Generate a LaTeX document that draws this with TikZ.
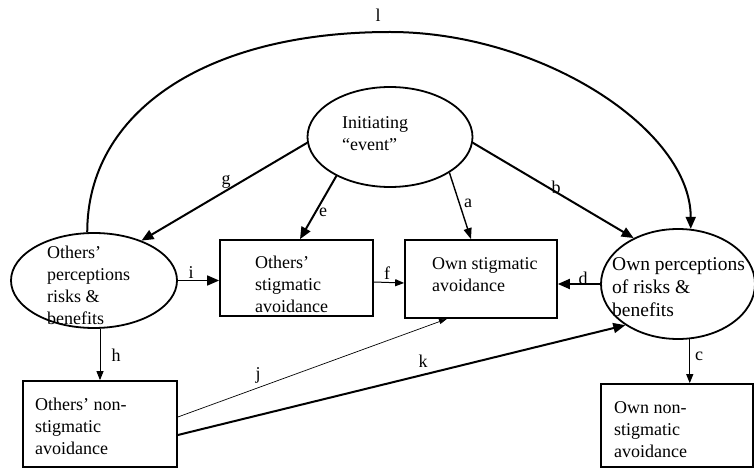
\documentclass[tikz,border=0pt]{standalone}
\usepackage{fontspec}
\setmainfont{Liberation Serif}
\usetikzlibrary{arrows.meta,shapes.geometric,calc}
\begin{document}
\begin{tikzpicture}[x=1pt,y=-1pt,
  ell/.style={ellipse,draw,line width=1.8pt,inner sep=0pt},
  boxn/.style={rectangle,draw,line width=1.7pt,inner sep=0pt},
  txt/.style={inner sep=0pt,align=left,anchor=west,font=\fontsize{18}{22}\selectfont},
  lbl/.style={inner sep=0pt,font=\fontsize{18}{22}\selectfont},
  thickarr/.style={line width=2pt,-{Triangle[length=12pt,width=10pt]}},
  medarr/.style={line width=1.4pt,-{Triangle[length=11pt,width=8pt]}},
  thinarr/.style={line width=1pt,-{Triangle[length=9pt,width=7pt]}},
  hairarr/.style={line width=0.7pt,-{Triangle[length=8pt,width=5pt]}},
]
\useasboundingbox[fill=white] (0,0) rectangle (754,470);

% shapes
\node[ell,minimum width=165pt,minimum height=100pt] (ie) at (390,137) {};
\node[ell,minimum width=166pt,minimum height=95pt] (oep) at (94,280.5) {};
\node[ell,minimum width=154pt,minimum height=110pt] (owp) at (678,284) {};
\node[boxn,minimum width=153pt,minimum height=76pt] (osa) at (296.5,278) {};
\node[boxn,minimum width=152pt,minimum height=78pt] (osb) at (481,279) {};
\node[boxn,minimum width=154pt,minimum height=86pt] (onsa) at (100,424) {};
\node[boxn,minimum width=152pt,minimum height=83pt] (wnsa) at (677,425.5) {};

% texts
\node[txt] (tie) at (342,134) {Initiating\\“event”};
\node[txt] (toep) at (47,285) {Others’\\perceptions\\risks \&\\benefits};
\node[txt,font=\fontsize{19.5}{23}\selectfont] (towp) at (612,287) {Own perceptions\\of risks \&\\benefits};
\node[txt] (tosa) at (255,284) {Others’\\stigmatic\\avoidance};
\node[txt] (tosb) at (432,275) {Own stigmatic\\avoidance};
\node[txt] (tonsa) at (35,426) {Others’ non-\\stigmatic\\avoidance};
\node[txt] (twnsa) at (614,430) {Own non-\\stigmatic\\avoidance};

% connectors
\coordinate (ltop) at (390,32);
\draw[thickarr] (oep.98) .. controls +(0,-120) and +(-185,0) .. (ltop) .. controls +(150,0) and +(0,-100) .. (owp.77);
\draw[thickarr] (ie.184) -- (oep.40);
\draw[thickarr] (ie.216) -- ($(osa.north)+(3.5,0)$);
\draw[medarr] (ie.329) -- ($(osb.north)+(-10,0)$);
\draw[thickarr] (ie.356) -- (owp.134);
\draw[thickarr,line width=1.6pt] (oep.east) -- (oep.east -| osa.west);
\draw[thinarr] ($(osa.east)+(0,4)$) -- ($(osb.west)+(0,4)$);
\draw[thickarr] (owp.west) -- (owp.west -| osb.east);
\draw[thinarr] (onsa.north |- oep.south) -- (onsa.north);
\draw[thinarr] (owp.-78) -- (owp.-78 |- wnsa.north);
\draw[hairarr] ($(onsa.east)+(0,-7)$) -- ($(osb.south)+(-34,0)$);
\draw[thickarr] ($(onsa.east)+(0,11)$) -- (owp.218);

% labels
\node[lbl] (ll) at (378,15) {l};
\node[lbl] (lg) at (226,182) {g};
\node[lbl] (le) at (323,212) {e};
\node[lbl] (la) at (468,203) {a};
\node[lbl] (lb) at (556,187) {b};
\node[lbl] (li) at (191,273) {i};
\node[lbl] (lf) at (387,273) {f};
\node[lbl] (ld) at (583,278) {d};
\node[lbl] (lh) at (116,355) {h};
\node[lbl] (lc) at (699,356) {c};
\node[lbl] (lj) at (258,375) {j};
\node[lbl] (lk) at (423,361) {k};
\end{tikzpicture}
\end{document}
